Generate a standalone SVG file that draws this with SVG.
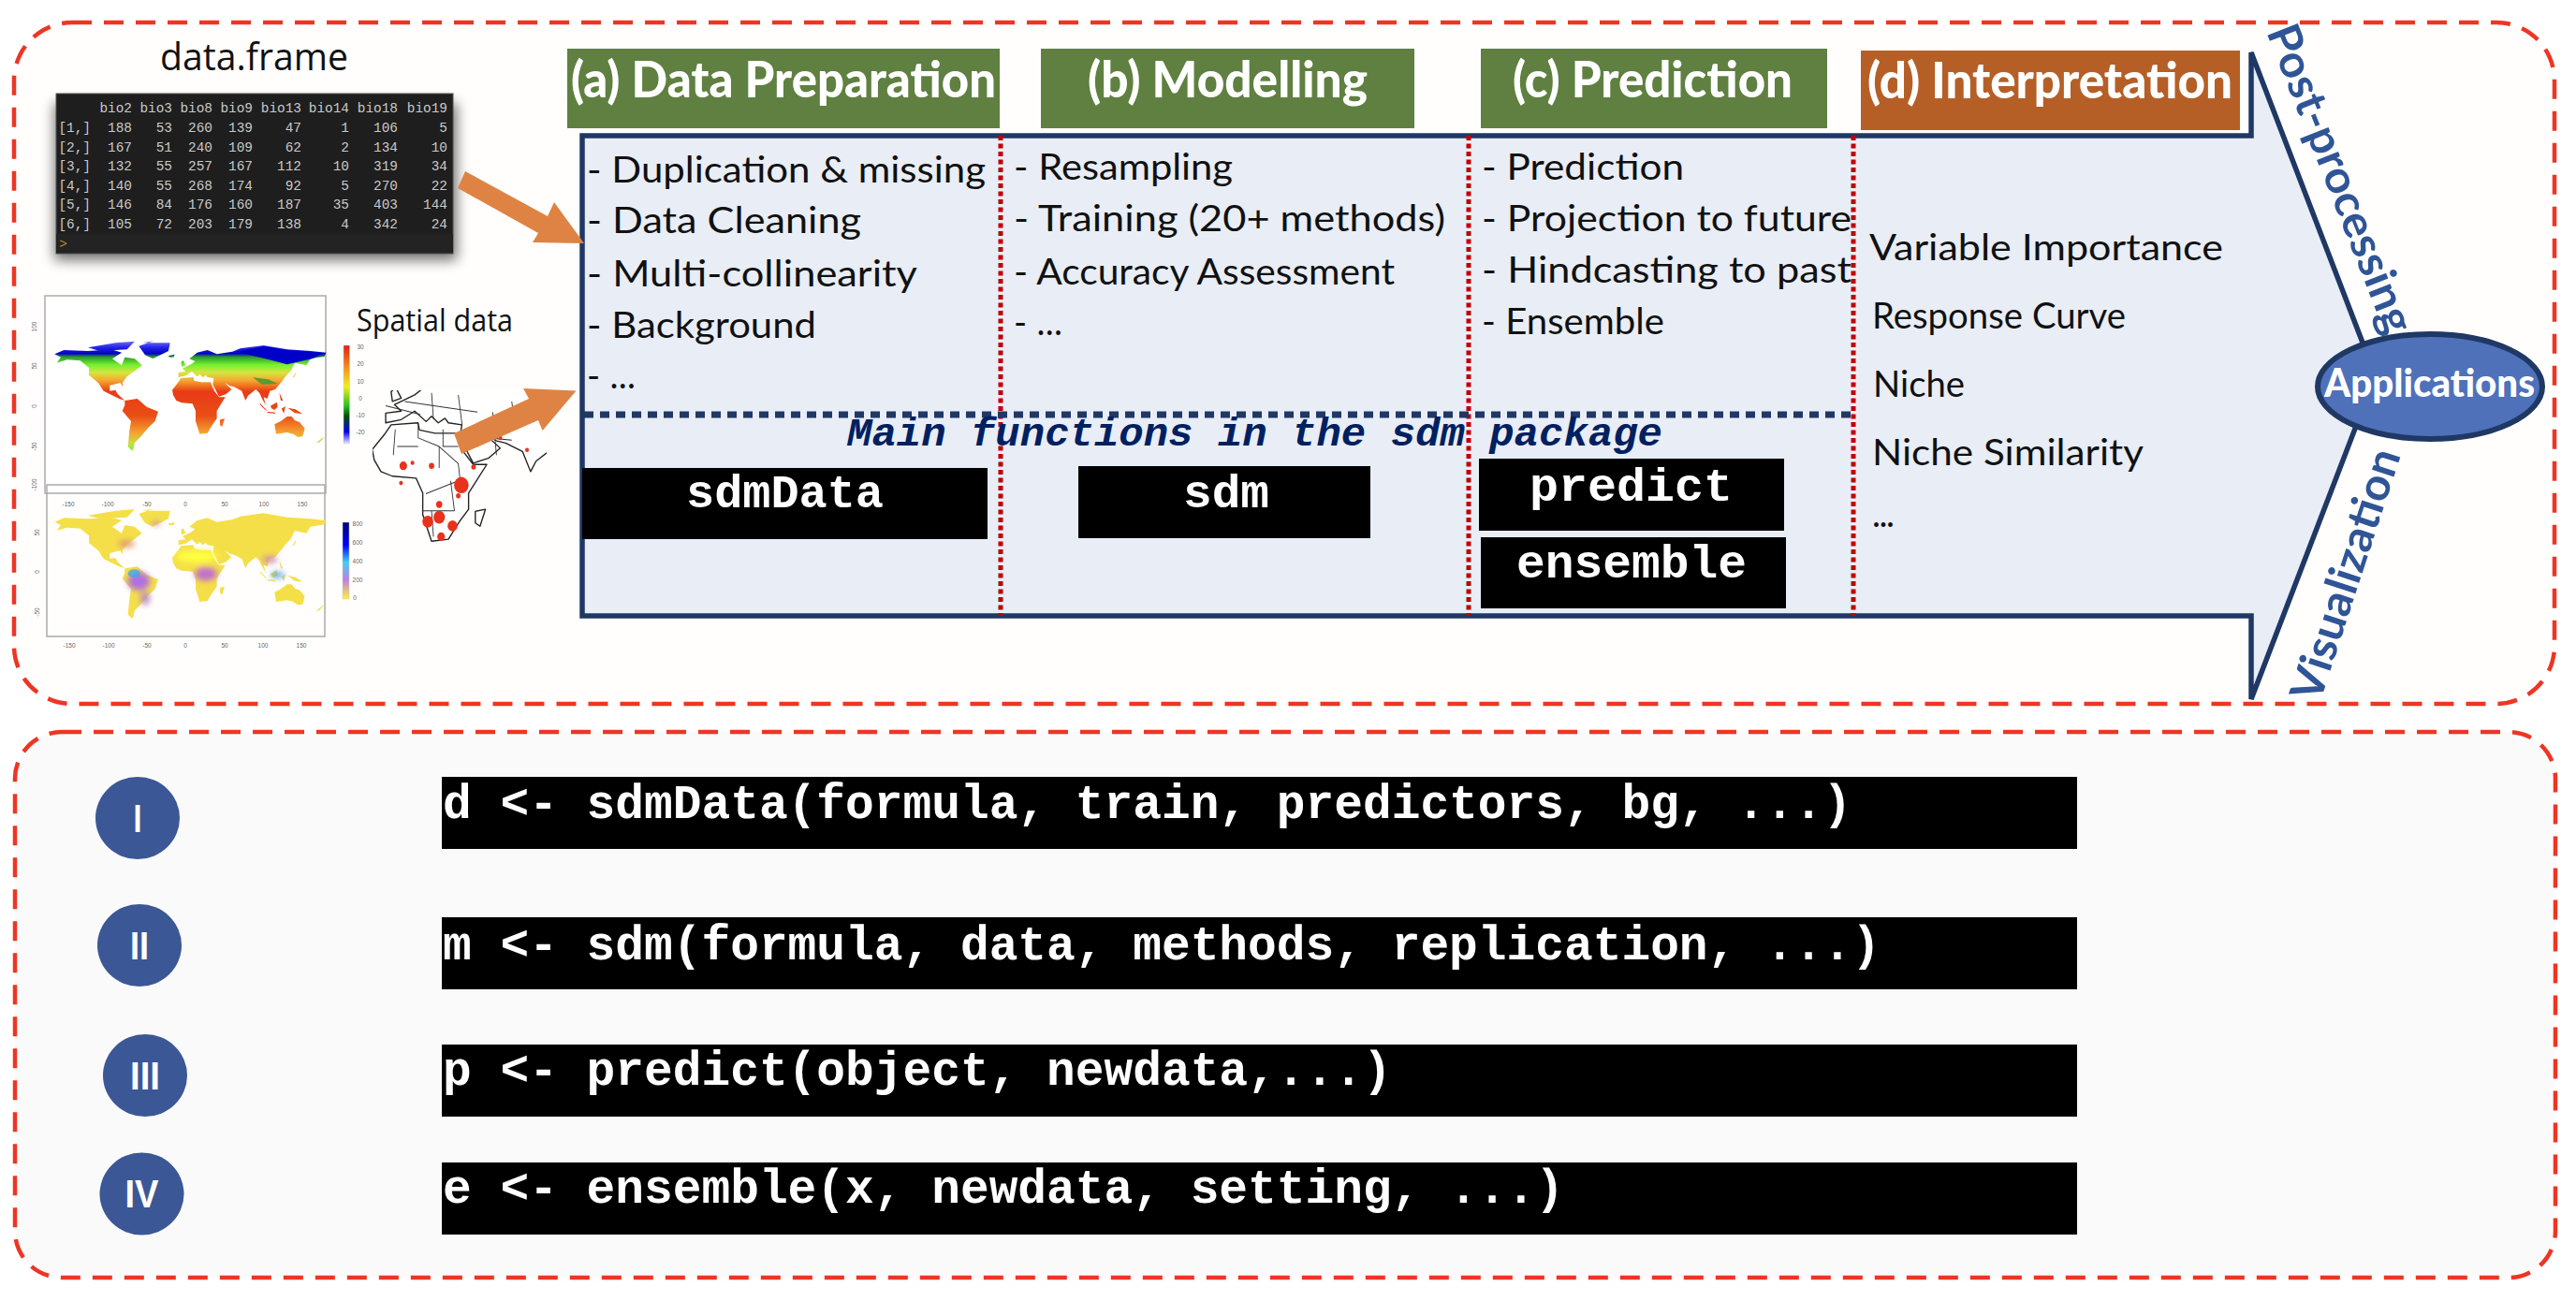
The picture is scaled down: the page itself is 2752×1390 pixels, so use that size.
<svg xmlns="http://www.w3.org/2000/svg" width="2752" height="1390" viewBox="0 0 2752 1390">
<style>
.panel{stroke:#EE3524;stroke-width:4.5;stroke-dasharray:21 13}
.hd{font:900 54px Lato,"Liberation Sans",sans-serif;fill:#fff}
.hand{font:400 38px Lato,"Open Sans",sans-serif;fill:#111}
.fn{font:700 50px "Liberation Mono",monospace;fill:#fff}
.code{font:700 51.2px "Liberation Mono",monospace;fill:#fff;white-space:pre}
.rn{font:700 42px "Liberation Sans",sans-serif;fill:#fff;text-anchor:middle}
.side{font:700 48px Lato,"Liberation Sans",sans-serif;fill:#2F5597}
.df{font:400 14.4px "Liberation Mono",monospace;fill:#c9c9c9;text-anchor:end}
.lab{font:400 41px "Open Sans",Lato,sans-serif;fill:#111}
.tk{font:400 6.5px "Liberation Sans",sans-serif;fill:#666;text-anchor:middle}
.sep{stroke:#C00000;stroke-width:5;stroke-dasharray:5 3.5;fill:none}
.bar{fill:#000}
.num{fill:#3B5796}
.frame{fill:#fff;stroke:#aaa;stroke-width:1.5}
</style>
<defs>
<filter id="soft" x="-5%" y="-5%" width="110%" height="110%"><feGaussianBlur stdDeviation="1.4"/></filter>
<filter id="blob" x="-40%" y="-40%" width="180%" height="180%"><feGaussianBlur stdDeviation="9"/></filter>
<filter id="shadow" x="-10%" y="-15%" width="120%" height="135%"><feGaussianBlur stdDeviation="7"/></filter>
<clipPath id="spatialClip"><rect x="398" y="417" width="186" height="165"/></clipPath>
<linearGradient id="temp" gradientUnits="userSpaceOnUse" x1="0" y1="190" x2="0" y2="550">
<stop offset="0" stop-color="#7f7fff"/><stop offset=".06" stop-color="#2a2ae8"/><stop offset=".12" stop-color="#0000c8"/><stop offset=".15" stop-color="#2a9a2a"/><stop offset=".22" stop-color="#74f030"/><stop offset=".29" stop-color="#d6e640"/><stop offset=".36" stop-color="#f5a630"/><stop offset=".46" stop-color="#e83a12"/><stop offset=".68" stop-color="#ea4f18"/><stop offset=".82" stop-color="#f5a030"/><stop offset=".92" stop-color="#c6e040"/><stop offset="1" stop-color="#70ee40"/>
</linearGradient>
<linearGradient id="cbTemp" x1="0" y1="0" x2="0" y2="1">
<stop offset="0" stop-color="#e02010"/><stop offset=".25" stop-color="#f59a20"/><stop offset=".42" stop-color="#f0f020"/><stop offset=".62" stop-color="#20c020"/><stop offset=".72" stop-color="#005000"/><stop offset=".88" stop-color="#0000f0"/><stop offset="1" stop-color="#e8e8ff"/>
</linearGradient>
<linearGradient id="cbRain" x1="0" y1="0" x2="0" y2="1">
<stop offset="0" stop-color="#000070"/><stop offset=".3" stop-color="#0000ff"/><stop offset=".52" stop-color="#40d0f0"/><stop offset=".75" stop-color="#c080e0"/><stop offset="1" stop-color="#fff040"/>
</linearGradient>
<g id="land">
<path d="M55,235 L85,222 L162,225 L237,220 L270,230 L240,250 L270,271 L280,245 L312,250 L335,271 L312,289 L287,307 L272,327 L275,340 L265,327 L232,335 L232,353 L250,350 L257,363 L280,384 L262,378 L212,353 L195,327 L165,302 L165,279 L137,256 L95,253 L62,263 L75,245 Z"/>
<path d="M162,214 L250,199 L312,194 L287,220 L200,225 Z"/>
<path d="M337,199 L425,199 L420,225 L370,250 L345,238 L325,209 L375,192 Z"/>
<path d="M280,384 L320,378 L350,404 L387,419 L377,450 L355,471 L330,501 L312,519 L305,545 L290,532 L295,481 L300,450 L272,417 L280,399 Z"/>
<path d="M435,366 L432,350 L450,327 L460,312 L500,309 L502,320 L525,325 L555,325 L567,353 L582,373 L602,373 L575,417 L575,442 L562,460 L545,488 L520,491 L507,450 L507,417 L497,394 L462,391 L445,384 Z"/>
<path d="M452,309 L452,294 L475,291 L465,281 L495,266 L505,258 L487,250 L512,230 L545,222 L575,235 L625,227 L650,217 L725,207 L800,220 L875,225 L925,230 L920,243 L875,250 L862,271 L825,263 L812,289 L795,307 L780,327 L762,348 L745,353 L737,378 L725,373 L732,399 L720,378 L712,360 L700,348 L675,368 L667,384 L655,353 L630,340 L617,337 L600,327 L622,348 L605,363 L582,371 L562,332 L565,312 L545,309 L540,302 L530,309 L520,299 L512,307 L495,291 L475,304 Z"/>
<path d="M760,460 L780,450 L800,435 L815,435 L825,448 L840,453 L857,473 L850,499 L835,501 L820,491 L800,486 L765,491 Z"/>
<path d="M712,391 L737,417 L730,414 L715,399 Z M747,401 L767,389 L770,404 L760,414 L750,409 Z M737,419 L762,422 L762,426 L737,423 Z M802,407 L827,412 L850,427 L825,424 Z M775,358 L787,384 L780,384 Z M800,322 L825,307 L830,291 L817,312 Z M782,410 L795,402 L790,425 Z"/>
<path d="M585,445 L600,442 L592,468 L585,463 Z M462,276 L475,271 L467,255 L460,261 Z M892,522 L910,506 L920,501 L905,517 Z M420,240 L440,236 L436,245 L422,245 Z"/>
</g>
</defs>
<rect width="2752" height="1390" fill="#fff"/>

<g id="panel-top"><rect class="panel" x="15" y="24" width="2714" height="728" rx="62" fill="#fffefd"/></g>
<g id="panel-bottom"><rect class="panel" x="16" y="782" width="2714" height="583" rx="50" fill="#fafafa"/></g>

<g id="data-frame">
<text class="lab" x="171" y="75" textLength="201" lengthAdjust="spacingAndGlyphs">data.frame</text>
<rect x="58" y="110" width="430" height="168" fill="#000" opacity=".55" filter="url(#shadow)"/>
<rect x="60" y="100" width="424" height="171" fill="#1e1e1e" stroke="#555" stroke-width="1"/>
<rect x="60" y="250" width="424" height="20" fill="#232323"/>
<g>
<text class="df" x="141" y="120">bio2</text><text class="df" x="184" y="120">bio3</text><text class="df" x="227" y="120">bio8</text><text class="df" x="270" y="120">bio9</text><text class="df" x="322" y="120">bio13</text><text class="df" x="373" y="120">bio14</text><text class="df" x="425" y="120">bio18</text><text class="df" x="478" y="120">bio19</text>
<text class="df" x="97" y="141">[1,]</text><text class="df" x="141" y="141">188</text><text class="df" x="184" y="141">53</text><text class="df" x="227" y="141">260</text><text class="df" x="270" y="141">139</text><text class="df" x="322" y="141">47</text><text class="df" x="373" y="141">1</text><text class="df" x="425" y="141">106</text><text class="df" x="478" y="141">5</text>
<text class="df" x="97" y="161.5">[2,]</text><text class="df" x="141" y="161.5">167</text><text class="df" x="184" y="161.5">51</text><text class="df" x="227" y="161.5">240</text><text class="df" x="270" y="161.5">109</text><text class="df" x="322" y="161.5">62</text><text class="df" x="373" y="161.5">2</text><text class="df" x="425" y="161.5">134</text><text class="df" x="478" y="161.5">10</text>
<text class="df" x="97" y="182">[3,]</text><text class="df" x="141" y="182">132</text><text class="df" x="184" y="182">55</text><text class="df" x="227" y="182">257</text><text class="df" x="270" y="182">167</text><text class="df" x="322" y="182">112</text><text class="df" x="373" y="182">10</text><text class="df" x="425" y="182">319</text><text class="df" x="478" y="182">34</text>
<text class="df" x="97" y="202.5">[4,]</text><text class="df" x="141" y="202.5">140</text><text class="df" x="184" y="202.5">55</text><text class="df" x="227" y="202.5">268</text><text class="df" x="270" y="202.5">174</text><text class="df" x="322" y="202.5">92</text><text class="df" x="373" y="202.5">5</text><text class="df" x="425" y="202.5">270</text><text class="df" x="478" y="202.5">22</text>
<text class="df" x="97" y="223">[5,]</text><text class="df" x="141" y="223">146</text><text class="df" x="184" y="223">84</text><text class="df" x="227" y="223">176</text><text class="df" x="270" y="223">160</text><text class="df" x="322" y="223">187</text><text class="df" x="373" y="223">35</text><text class="df" x="425" y="223">403</text><text class="df" x="478" y="223">144</text>
<text class="df" x="97" y="243.5">[6,]</text><text class="df" x="141" y="243.5">105</text><text class="df" x="184" y="243.5">72</text><text class="df" x="227" y="243.5">203</text><text class="df" x="270" y="243.5">179</text><text class="df" x="322" y="243.5">138</text><text class="df" x="373" y="243.5">4</text><text class="df" x="425" y="243.5">342</text><text class="df" x="478" y="243.5">24</text>
<text class="df" x="72" y="265" style="fill:#b98a30">&gt;</text>
</g>
</g>

<g id="maps">
<rect class="frame" x="48" y="316" width="300" height="211"/>
<rect class="frame" x="50" y="518" width="297" height="162" style="fill:none"/>
<g transform="translate(40,300) scale(.3333)">
<use href="#land" fill="url(#temp)" filter="url(#soft)"/>
<path d="M640,228 L725,210 L800,222 L920,232 L880,250 L800,268 L740,252 L680,238 Z" fill="#0000c8" filter="url(#soft)"/>
<path d="M690,310 L740,316 L770,330 L720,332 Z" fill="#5a9a30" filter="url(#soft)"/>
<g transform="translate(0,538)">
<use href="#land" fill="#F5DF4A" filter="url(#soft)"/>
<g filter="url(#blob)">
<ellipse cx="510" cy="345" rx="65" ry="20" fill="#ffff40"/>
<ellipse cx="325" cy="425" rx="36" ry="30" fill="#b070e0"/>
<ellipse cx="345" cy="480" rx="16" ry="22" fill="#c090c0"/>
<ellipse cx="540" cy="402" rx="36" ry="22" fill="#c070d0"/>
<ellipse cx="745" cy="355" rx="24" ry="12" fill="#d090b0"/>
<ellipse cx="770" cy="405" rx="22" ry="9" fill="#50a0f0"/>
<ellipse cx="285" cy="305" rx="28" ry="12" fill="#e0a070"/>
<ellipse cx="380" cy="240" rx="14" ry="6" fill="#c080c0"/>
</g>
<ellipse cx="310" cy="400" rx="20" ry="13" fill="#3aa8f0" opacity=".75" filter="url(#soft)"/>
</g>
</g>
<rect x="367" y="369" width="6.5" height="105" fill="url(#cbTemp)" stroke="#ccc" stroke-width=".5"/>
<rect x="366" y="558" width="7" height="82" fill="url(#cbRain)" stroke="#ccc" stroke-width=".5"/>
<g>
<text class="tk" x="385" y="373">30</text><text class="tk" x="385" y="391">20</text><text class="tk" x="385" y="410">10</text><text class="tk" x="385" y="428">0</text><text class="tk" x="385" y="446">-10</text><text class="tk" x="385" y="464">-20</text>
<text class="tk" x="382" y="562">800</text><text class="tk" x="382" y="582">600</text><text class="tk" x="382" y="602">400</text><text class="tk" x="382" y="622">200</text><text class="tk" x="379" y="641">0</text>
<text class="tk" x="73" y="541">-150</text><text class="tk" x="115" y="541">-100</text><text class="tk" x="157" y="541">-50</text><text class="tk" x="198" y="541">0</text><text class="tk" x="240" y="541">50</text><text class="tk" x="282" y="541">100</text><text class="tk" x="323" y="541">150</text>
<text class="tk" x="74" y="692">-150</text><text class="tk" x="116" y="692">-100</text><text class="tk" x="157" y="692">-50</text><text class="tk" x="198" y="692">0</text><text class="tk" x="240" y="692">50</text><text class="tk" x="281" y="692">100</text><text class="tk" x="322" y="692">150</text>
<text class="tk" transform="translate(39,349) rotate(-90)">100</text><text class="tk" transform="translate(39,391) rotate(-90)">50</text><text class="tk" transform="translate(39,434) rotate(-90)">0</text><text class="tk" transform="translate(39,477) rotate(-90)">-50</text><text class="tk" transform="translate(39,518) rotate(-90)">-100</text>
<text class="tk" transform="translate(42,569) rotate(-90)">50</text><text class="tk" transform="translate(42,611) rotate(-90)">0</text><text class="tk" transform="translate(42,654) rotate(-90)">-50</text>
</g>
</g>

<g id="spatial-data">
<text class="lab" x="381" y="354" style="font-size:33px" textLength="167" lengthAdjust="spacingAndGlyphs">Spatial data</text>
<g clip-path="url(#spatialClip)">
<g transform="translate(86.6,237) scale(.72,.695)"><use href="#land" fill="#fff" stroke="#222" stroke-width="1.9" stroke-linejoin="round"/></g>
</g>
<g transform="scale(.408,.4587)" fill="none" stroke="#333" stroke-width="2.2" stroke-linejoin="round">
<path d="M1035,1000 L1030,1060 M1095,985 L1095,1020 L1150,1040 L1150,1090 M1160,1000 L1160,1040 L1200,1040 M1040,1040 L1095,1040 M1150,1040 L1200,1080 L1205,1120 M1115,1150 L1200,1120 M1105,1190 L1190,1190 M1130,1190 L1135,1250 M1060,935 L1250,960 M1130,915 L1135,975 M1280,1020 L1340,1025 M1290,960 L1300,1060 M1180,1120 L1190,1190 M1010,945 L1100,965 M1200,920 L1210,990 M1340,935 L1350,1000"/>
</g>
<g fill="#E8301E" filter="url(#soft)" transform="scale(.408,.4587)">
<circle cx="1056" cy="1085" r="10"/><circle cx="1080" cy="1078" r="5"/><circle cx="1130" cy="1085" r="7"/><circle cx="1050" cy="1125" r="5"/><circle cx="1208" cy="1130" r="19"/><circle cx="1200" cy="1155" r="6"/><circle cx="1240" cy="1088" r="6"/><circle cx="1150" cy="1205" r="15"/><circle cx="1185" cy="1225" r="13"/><circle cx="1120" cy="1215" r="14"/><circle cx="1155" cy="1250" r="10"/><circle cx="1380" cy="1048" r="5"/><circle cx="1310" cy="1020" r="5"/><circle cx="1200" cy="1015" r="4"/><circle cx="1150" cy="1175" r="8"/>
</g>
</g>

<g id="process-arrow">
<path d="M622,145 H2405 V56 L2524,366 L2516,458 L2405,747 V658 H622 Z" fill="#E8EDF6" stroke="#1F3864" stroke-width="5.5" stroke-linejoin="miter"/>
<path d="M1069,145 V658" class="sep"/>
<path d="M1569,145 V658" class="sep"/>
<path d="M1980,145 V658" class="sep"/>
<path d="M624,443 H1980" fill="none" stroke="#1F3864" stroke-width="7" stroke-dasharray="10 7"/>
</g>

<g id="step-a">
<rect x="606" y="52" width="462" height="85" fill="#5F8040"/>
<text class="hd" x="610" y="104" textLength="454" lengthAdjust="spacingAndGlyphs">(a) Data Preparation</text>
<text class="hand" x="627" y="195" textLength="426" lengthAdjust="spacingAndGlyphs">- Duplication &amp; missing</text>
<text class="hand" x="627" y="249" textLength="293" lengthAdjust="spacingAndGlyphs">- Data Cleaning</text>
<text class="hand" x="627" y="306" textLength="353" lengthAdjust="spacingAndGlyphs">- Multi-collinearity</text>
<text class="hand" x="627" y="361" textLength="245" lengthAdjust="spacingAndGlyphs">- Background</text>
<text class="hand" x="627" y="415" textLength="52" lengthAdjust="spacing">- ...</text>
<rect class="bar" x="622" y="500" width="433" height="76"/>
<text class="fn" x="733" y="542" textLength="211" lengthAdjust="spacingAndGlyphs">sdmData</text>
</g>

<g id="step-b">
<rect x="1112" y="52" width="399" height="85" fill="#5F8040"/>
<text class="hd" x="1162" y="104" textLength="299" lengthAdjust="spacingAndGlyphs">(b) Modelling</text>
<text class="hand" x="1083" y="192" textLength="234" lengthAdjust="spacingAndGlyphs">- Resampling</text>
<text class="hand" x="1083" y="247" textLength="461" lengthAdjust="spacingAndGlyphs">- Training (20+ methods)</text>
<text class="hand" x="1083" y="304" textLength="407" lengthAdjust="spacingAndGlyphs">- Accuracy Assessment</text>
<text class="hand" x="1083" y="358" textLength="52" lengthAdjust="spacing">- ...</text>
<rect class="bar" x="1152" y="498" width="312" height="77"/>
<text class="fn" x="1264" y="542" textLength="92" lengthAdjust="spacingAndGlyphs">sdm</text>
</g>

<g id="step-c">
<rect x="1582" y="52" width="370" height="85" fill="#5F8040"/>
<text class="hd" x="1616" y="104" textLength="299" lengthAdjust="spacingAndGlyphs">(c) Prediction</text>
<text class="hand" x="1583" y="192" textLength="216" lengthAdjust="spacingAndGlyphs">- Prediction</text>
<text class="hand" x="1583" y="247" textLength="395" lengthAdjust="spacingAndGlyphs">- Projection to future</text>
<text class="hand" x="1583" y="302" textLength="395" lengthAdjust="spacingAndGlyphs">- Hindcasting to past</text>
<text class="hand" x="1583" y="357" textLength="195" lengthAdjust="spacingAndGlyphs">- Ensemble</text>
<rect class="bar" x="1580" y="490" width="326" height="77"/>
<text class="fn" x="1634" y="535" textLength="217" lengthAdjust="spacingAndGlyphs">predict</text>
<rect class="bar" x="1582" y="574" width="326" height="76"/>
<text class="fn" x="1620" y="617" textLength="246" lengthAdjust="spacingAndGlyphs">ensemble</text>
</g>

<g id="step-d">
<rect x="1988" y="54" width="405" height="85" fill="#B55F27"/>
<text class="hd" x="1995" y="105" textLength="390" lengthAdjust="spacingAndGlyphs">(d) Interpretation</text>
<text class="hand" x="1997" y="278" textLength="378" lengthAdjust="spacingAndGlyphs">Variable Importance</text>
<text class="hand" x="2000" y="351" textLength="271" lengthAdjust="spacingAndGlyphs">Response Curve</text>
<text class="hand" x="2001" y="424" textLength="98" lengthAdjust="spacingAndGlyphs">Niche</text>
<text class="hand" x="2000" y="497" textLength="290" lengthAdjust="spacingAndGlyphs">Niche Similarity</text>
<text class="hand" x="2000" y="563" textLength="24" lengthAdjust="spacing">...</text>
</g>

<g id="main-functions-label">
<text x="905" y="476" textLength="871" lengthAdjust="spacingAndGlyphs" style="font:italic 700 42px 'Liberation Mono',monospace;fill:#002060">Main functions in the sdm package</text>
</g>

<g id="applications">
<ellipse cx="2596" cy="413" rx="120" ry="56" fill="#4F71BA" stroke="#1F3864" stroke-width="6"/>
<text x="2483" y="424" textLength="225" lengthAdjust="spacingAndGlyphs" style="font:900 42px Lato,'Liberation Sans',sans-serif;fill:#fff">Applications</text>
</g>
<g id="side-labels">
<text class="side" transform="translate(2421,34) rotate(68.5)" textLength="350" lengthAdjust="spacingAndGlyphs">Post-processing</text>
<text class="side" transform="translate(2478,752) rotate(-71.9)" textLength="280" lengthAdjust="spacingAndGlyphs">Visualization</text>
</g>

<g id="connectors" fill="#DF8344">
<path d="M497,183 L489,201 L575,249 L569,259 L624,260 L592,216 L585,231 Z"/>
<path d="M485,463 L493,485 L575,449 L579.6,460 L615.5,417.4 L559,415 L565,426 Z"/>
</g>

<g id="call-1">
<ellipse class="num" cx="147" cy="874" rx="45" ry="44"/><text class="rn" x="147" y="889" textLength="9" lengthAdjust="spacingAndGlyphs">I</text>
<rect class="bar" x="472" y="830" width="1747" height="77"/>
<text class="code" x="473" y="874">d &lt;- sdmData(formula, train, predictors, bg, ...)</text>
</g>
<g id="call-2">
<ellipse class="num" cx="149" cy="1010" rx="45" ry="44"/><text class="rn" x="149" y="1025" textLength="20" lengthAdjust="spacingAndGlyphs">II</text>
<rect class="bar" x="472" y="980" width="1747" height="77"/>
<text class="code" x="473" y="1025">m &lt;- sdm(formula, data, methods, replication, ...)</text>
</g>
<g id="call-3">
<ellipse class="num" cx="155" cy="1149" rx="45" ry="44"/><text class="rn" x="155" y="1164" textLength="32" lengthAdjust="spacingAndGlyphs">III</text>
<rect class="bar" x="472" y="1116" width="1747" height="77"/>
<text class="code" x="473" y="1159">p &lt;- predict(object, newdata,...)</text>
</g>
<g id="call-4">
<ellipse class="num" cx="151.5" cy="1275.5" rx="45" ry="44"/><text class="rn" x="151.5" y="1290" textLength="36" lengthAdjust="spacingAndGlyphs">IV</text>
<rect class="bar" x="472" y="1242" width="1747" height="77"/>
<text class="code" x="473" y="1285">e &lt;- ensemble(x, newdata, setting, ...)</text>
</g>
</svg>
